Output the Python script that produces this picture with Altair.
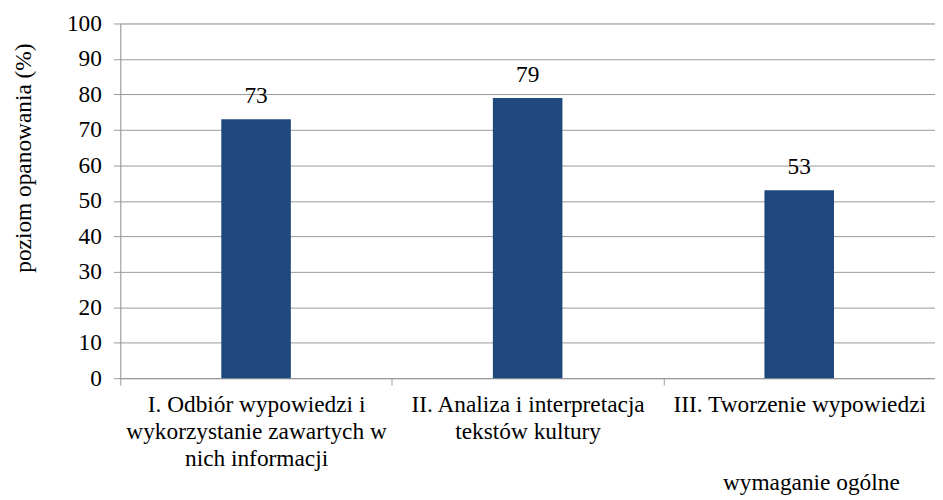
import altair as alt
import pandas as pd

category_lines = [
    ["I. Odbiór wypowiedzi i", "wykorzystanie zawartych w", "nich informacji"],
    ["II. Analiza i interpretacja", "tekstów kultury"],
    ["III. Tworzenie wypowiedzi"],
]
values = [73, 79, 53]
y_ticks = [0, 10, 20, 30, 40, 50, 60, 70, 80, 90, 100]

categories = ["|".join(c) for c in category_lines]
df = pd.DataFrame({"kategoria": categories, "wartosc": values})

FONT = "Liberation Serif"
BAR = "#1F497D"
GRID = "#9A9A9A"
FS = 23.5

x_enc = alt.X(
    "kategoria:N",
    sort=categories,
    scale=alt.Scale(paddingInner=0, paddingOuter=0),
    axis=alt.Axis(
        title="wymaganie ogólne",
        labelExpr="split(datum.label, '|')",
        labelAngle=0,
        labelFont=FONT,
        labelFontSize=FS,
        labelColor="#000000",
        labelLineHeight=27,
        labelPadding=8,
        labelBaseline="top",
        labelLimit=0,
        tickBand="extent",
        tickColor=GRID,
        tickSize=7,
        domainColor=GRID,
        grid=False,
        titleFont=FONT,
        titleFontSize=FS,
        titleFontWeight="normal",
        titleColor="#000000",
        titleX=695,
        titleY=112,
        titleAlign="center",
        titleBaseline="alphabetic",
    ),
)

y_enc = alt.Y(
    "wartosc:Q",
    scale=alt.Scale(domain=[0, 100]),
    axis=alt.Axis(
        title="poziom opanowania (%)",
        values=y_ticks,
        labelFont=FONT,
        labelFontSize=FS,
        labelColor="#000000",
        labelPadding=12,
        tickColor=GRID,
        tickSize=7,
        domainColor=GRID,
        gridColor=GRID,
        gridOpacity=1,
        titleFont=FONT,
        titleFontSize=FS,
        titleFontWeight="normal",
        titleColor="#000000",
        titleX=-97,
        titleY=135,
        titleAlign="center",
        titleBaseline="middle",
    ),
)

base = alt.Chart(df).encode(x=x_enc, y=y_enc)

bars = base.mark_bar(color=BAR, size=70)
labels = base.mark_text(
    font=FONT, fontSize=FS, dy=-11, baseline="bottom", color="#000000"
).encode(text="wartosc:Q")

chart = (
    (bars + labels)
    .properties(
        width=820,
        height=357,
        autosize=alt.AutoSizeParams(type="none"),
        padding={"left": 113, "top": 14, "right": 0, "bottom": 117},
    )
    .configure_view(stroke=None)
    .configure(background="white")
)

chart.save("out.html", embed_options={"renderer": "svg", "actions": False})
